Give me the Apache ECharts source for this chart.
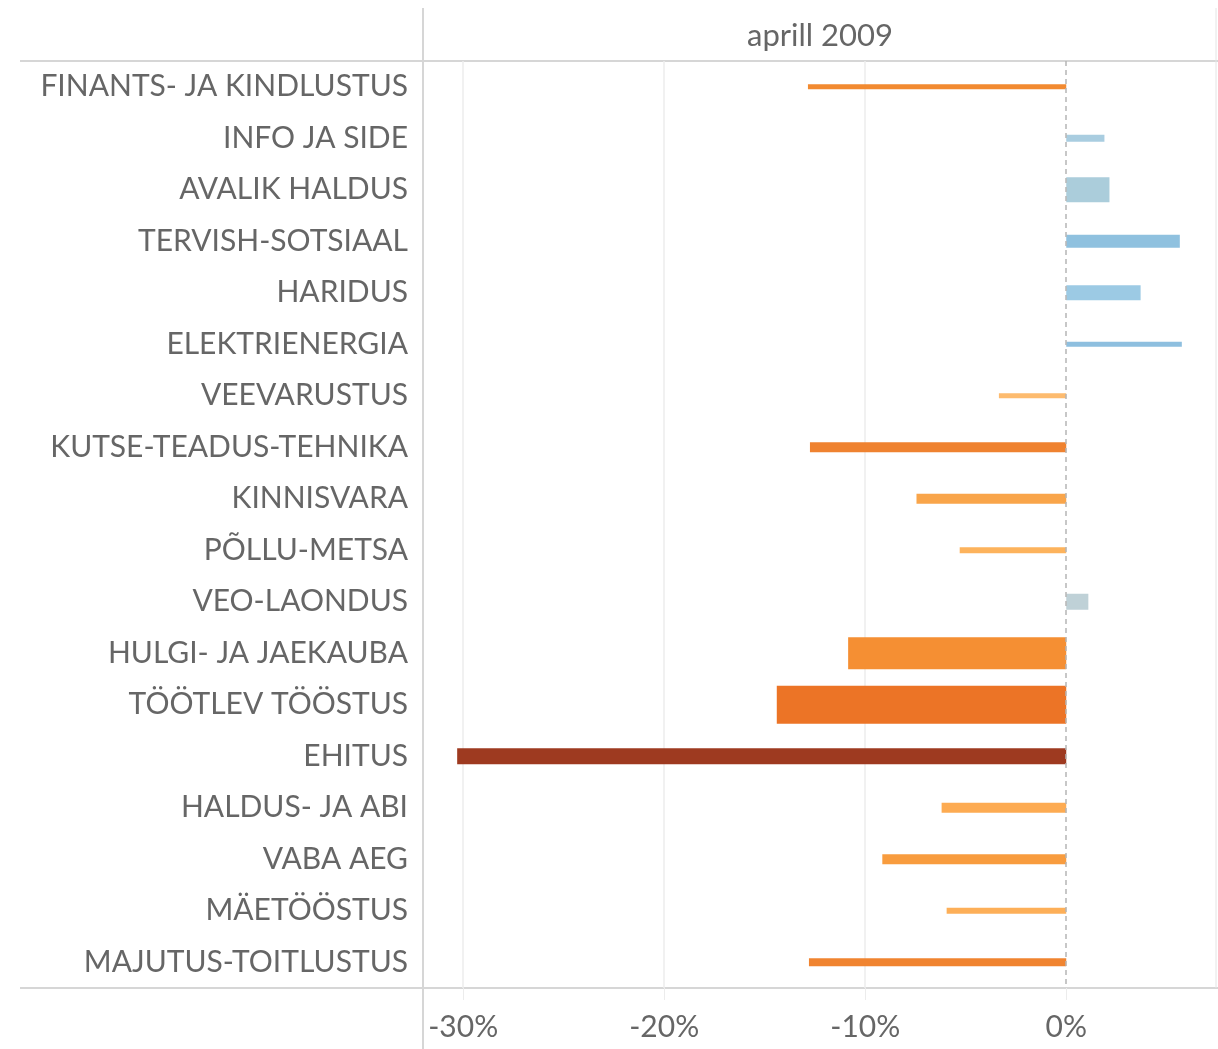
<!DOCTYPE html>
<html>
<head>
    <meta charset="utf-8">
    <title>aprill 2009</title>
    <script src="https://cdn.jsdelivr.net/npm/echarts@6/dist/echarts.min.js"></script>
    <style>
        html, body { margin: 0; padding: 0; background: #fff; }
        #main { width: 1218px; height: 1049px; }
    </style>
</head>
<body>
<div id="main"></div>
<script>
    // sektorid (ülevalt alla)
    var categories = ['FINANTS- JA KINDLUSTUS', 'INFO JA SIDE', 'AVALIK HALDUS', 'TERVISH-SOTSIAAL',
        'HARIDUS', 'ELEKTRIENERGIA', 'VEEVARUSTUS', 'KUTSE-TEADUS-TEHNIKA', 'KINNISVARA',
        'PÕLLU-METSA', 'VEO-LAONDUS', 'HULGI- JA JAEKAUBA', 'TÖÖTLEV TÖÖSTUS', 'EHITUS',
        'HALDUS- JA ABI', 'VABA AEG', 'MÄETÖÖSTUS', 'MAJUTUS-TOITLUSTUS'];
    // muutus, %
    var change = [-12.85, 1.9, 2.15, 5.65, 3.7, 5.75, -3.35, -12.75, -7.45,
        -5.3, 1.1, -10.85, -14.4, -30.3, -6.2, -9.15, -5.95, -12.8];
    // tulba paksus (suuruse mõõt)
    var barSize = [5, 7, 25, 13, 15, 5, 5, 10, 10, 6, 16, 32, 38, 16, 10, 10, 6, 8];
    var barColor = ['#f28a30', '#a9cde0', '#abcddb', '#8fc1df', '#9ccae4', '#8ebfdf', '#fdbb6f',
        '#ef8230', '#f9a54a', '#fdb35c', '#bfd1d7', '#f58f33', '#ec7426', '#9e3a20',
        '#fdab52', '#f89c3e', '#fdaf58', '#f08430'];
    var ticks = [-30, -20, -10, 0];

    var myChart = echarts.init(document.getElementById('main'));

    var lineColor = '#d6d6d6';
    var option = {
        animation: false,
        textStyle: { fontFamily: 'Lato' },
        grid: { left: 423, right: 1, top: 61, bottom: 61 },
        xAxis: {
            type: 'value',
            min: -32,
            max: 7.5,
            splitLine: { show: false },
            axisLine: { show: false },
            axisTick: { show: true, customValues: ticks, length: 12, lineStyle: { color: '#ececec' } },
            axisLabel: {
                customValues: ticks,
                formatter: function (v) { return v + '%'; },
                fontSize: 30, color: '#666', margin: 24
            }
        },
        yAxis: {
            type: 'category',
            inverse: true,
            data: categories,
            axisLine: { show: false },
            axisTick: { show: false },
            axisLabel: { fontSize: 30, color: '#666', margin: 15 }
        },
        graphic: [
            { type: 'line', shape: { x1: 20, y1: 61, x2: 1218, y2: 61 }, style: { stroke: lineColor, lineWidth: 2 } },
            { type: 'line', shape: { x1: 20, y1: 988, x2: 1218, y2: 988 }, style: { stroke: lineColor, lineWidth: 2 } },
            { type: 'line', shape: { x1: 423, y1: 8, x2: 423, y2: 1049 }, style: { stroke: lineColor, lineWidth: 2 } },
            { type: 'line', shape: { x1: 1216, y1: 8, x2: 1216, y2: 988 }, style: { stroke: '#e4e4e4', lineWidth: 1 } },
            { type: 'text', x: 820, y: 36, style: { text: 'aprill 2009', fontSize: 31, fontFamily: 'Lato', fill: '#666', align: 'center', verticalAlign: 'middle' } }
        ],
        series: [
            {
                type: 'line',
                data: [],
                silent: true,
                z: 1,
                markLine: {
                    silent: true,
                    z: 1,
                    symbol: 'none',
                    label: { show: false },
                    data: [
                        { xAxis: -30, lineStyle: { color: '#ececec', type: 'solid', width: 1.5 } },
                        { xAxis: -20, lineStyle: { color: '#ececec', type: 'solid', width: 1.5 } },
                        { xAxis: -10, lineStyle: { color: '#ececec', type: 'solid', width: 1.5 } }
                    ]
                }
            },
            {
                type: 'custom',
                encode: { x: 0, y: 1 },
                data: categories.map(function (c, i) { return [change[i], i]; }),
                renderItem: function (params, api) {
                    var i = params.dataIndex;
                    var base = api.coord([0, api.value(1)]);
                    var end = api.coord([api.value(0), api.value(1)]);
                    var h = barSize[i];
                    return {
                        type: 'rect',
                        shape: {
                            x: Math.min(base[0], end[0]),
                            y: base[1] - h / 2,
                            width: Math.abs(end[0] - base[0]),
                            height: h
                        },
                        style: { fill: barColor[i] }
                    };
                },
                z: 10
            },
            {
                type: 'line',
                data: [],
                silent: true,
                z: 12,
                markLine: {
                    silent: true,
                    z: 12,
                    symbol: 'none',
                    label: { show: false },
                    data: [{ xAxis: 0, lineStyle: { color: '#b5b5b5', type: [5, 4], width: 1.5 } }]
                }
            }
        ]
    };
    myChart.setOption(option);
</script>
</body>
</html>
